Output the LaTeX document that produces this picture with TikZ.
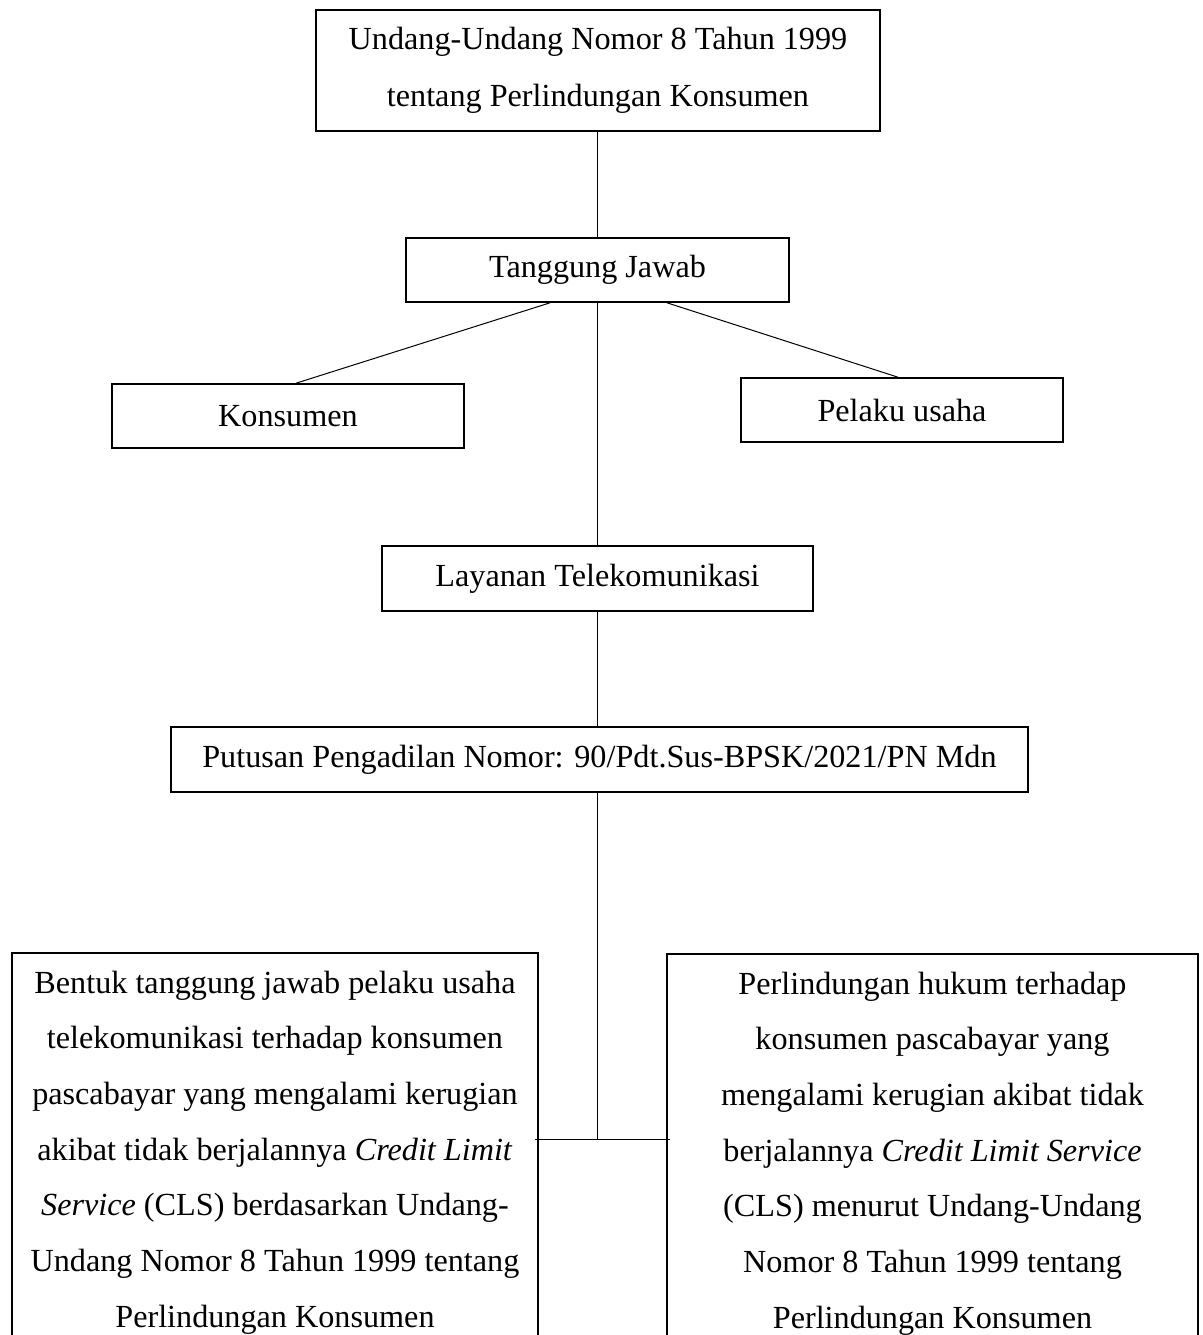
\documentclass[tikz,border=0pt]{standalone}
\usepackage{fontspec}
\setmainfont{Liberation Serif}
\usetikzlibrary{calc}
\begin{document}
\begin{tikzpicture}[x=0.5pt,y=-0.5pt,
  box/.style={draw, line width=0.8pt, align=center, inner sep=0pt,
    font=\fontsize{16.1}{28.5}\selectfont},
  bigbox/.style={draw, line width=0.8pt, align=center, inner xsep=0pt, inner ysep=9pt,
    anchor=north, font=\fontsize{16.1}{27.85}\selectfont},
  conn/.style={line width=0.5pt}]
\useasboundingbox (0,0) rectangle (1203,1335);
\clip (0,0) rectangle (1203,1335);

\node[box, minimum width=282pt, minimum height=60.5pt] (uu) at (598,70.5)
  {Undang-Undang Nomor 8 Tahun 1999\\tentang Perlindungan Konsumen};
\node[box, minimum width=191.5pt, minimum height=32pt] (tj) at (597.5,270) {Tanggung Jawab};
\node[box, minimum width=176pt, minimum height=32pt] (kons) at (288,416) {Konsumen};
\node[box, minimum width=161pt, minimum height=32pt] (pel) at (902,410) {Pelaku usaha};
\node[box, minimum width=215.5pt, minimum height=32.5pt] (lay) at (597.5,578.5) {Layanan Telekomunikasi};
\node[box, minimum width=428.5pt, minimum height=32.5pt] (put) at (599.5,759.5)
  {Putusan Pengadilan Nomor: 90/Pdt.Sus-BPSK/2021/PN Mdn};

\node[bigbox, minimum width=263pt] (bl) at (275,952)
  {Bentuk tanggung jawab pelaku usaha\\
   telekomunikasi terhadap konsumen\\
   pascabayar yang mengalami kerugian\\
   akibat tidak berjalannya \textit{Credit Limit}\\
   \textit{Service} (CLS) berdasarkan Undang-\\
   Undang Nomor 8 Tahun 1999 tentang\\
   Perlindungan Konsumen};
\node[bigbox, minimum width=265.5pt] (br) at (932.5,953)
  {Perlindungan hukum terhadap\\
   konsumen pascabayar yang\\
   mengalami kerugian akibat tidak\\
   berjalannya \textit{Credit Limit Service}\\
   (CLS) menurut Undang-Undang\\
   Nomor 8 Tahun 1999 tentang\\
   Perlindungan Konsumen};

\coordinate (j) at (597.5,1139);

\draw[conn] (uu.south -| tj.north) -- (tj.north);
\draw[conn] ([xshift=-23.75pt]tj.south) -- ([xshift=4pt]kons.north);
\draw[conn] ([xshift=34.75pt]tj.south) -- ([xshift=-2pt]pel.north);
\draw[conn] (tj.south) -- (lay.north);
\draw[conn] (lay.south) -- (lay.south |- put.north);
\draw[conn] (put.south -| j) -- (j);
\draw[conn] ($(j -| bl.east)+(-2pt,0)$) -- ($(j -| br.west)+(2pt,0)$);
\end{tikzpicture}
\end{document}
